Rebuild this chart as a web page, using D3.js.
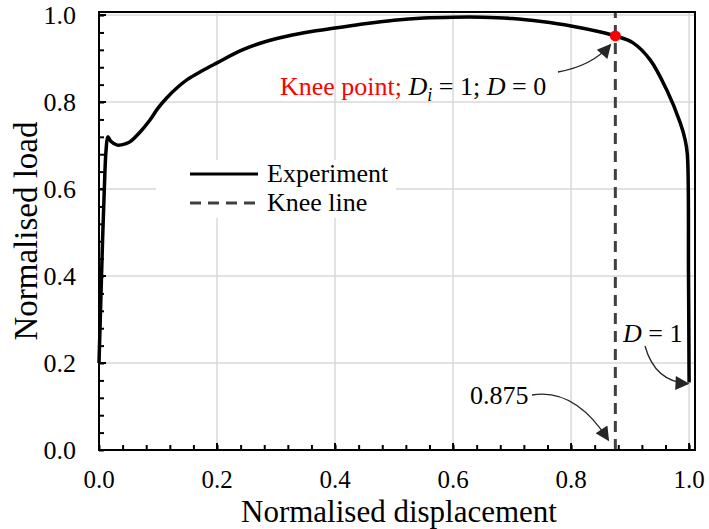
<!DOCTYPE html>
<html>
<head>
<meta charset="utf-8">
<script src="https://cdn.jsdelivr.net/npm/d3@7"></script>
<style>
  body { margin: 0; background: #fff; }
</style>
</head>
<body>
<script>
// experiment curve
const displacement = [0, 0.003, 0.006, 0.009, 0.012, 0.015, 0.02, 0.031, 0.045, 0.053, 0.069, 0.086, 0.1, 0.115, 0.13, 0.15, 0.175, 0.2, 0.24, 0.28, 0.32, 0.36, 0.4, 0.45, 0.5, 0.55, 0.6, 0.65, 0.7, 0.75, 0.8, 0.85, 0.875, 0.905, 0.934, 0.962, 0.985, 0.993, 0.997, 0.999, 1.0]
const load = [0.2, 0.34, 0.48, 0.6, 0.69, 0.72, 0.71, 0.701, 0.704, 0.709, 0.73, 0.758, 0.786, 0.81, 0.83, 0.852, 0.872, 0.89, 0.918, 0.938, 0.952, 0.962, 0.97, 0.98, 0.988, 0.993, 0.995, 0.995, 0.992, 0.985, 0.975, 0.961, 0.952, 0.936, 0.897, 0.828, 0.752, 0.715, 0.68, 0.4, 0.155]

const kneeX = 0.875, kneeLoad = 0.952
const failX = 1.0, failLoad = 0.155
const majorTicks = [0, 0.2, 0.4, 0.6, 0.8, 1.0]
const minorTicks = d3.range(0, 1.001, 0.04)

const width = 709, height = 529
const margin = { top: 12, right: 14, bottom: 79, left: 99 }
const serif = "'Liberation Serif', Tinos, 'Times New Roman', 'DejaVu Serif', serif"

const svg = d3.select("body").append("svg")
  .attr("width", width)
  .attr("height", height)
  .attr("font-family", serif)
  .style("font-family", serif)

const x = d3.scaleLinear().domain([0, 1.01]).range([margin.left, width - margin.right])
const y = d3.scaleLinear().domain([0, 1.007]).range([height - margin.bottom, margin.top])

// grid
svg.append("g").selectAll("line").data(majorTicks.slice(1)).enter().append("line")
  .attr("x1", d => x(d)).attr("x2", d => x(d))
  .attr("y1", y.range()[0]).attr("y2", y.range()[1])
  .attr("stroke", "#d9d9d9").attr("stroke-width", 1.5)
svg.append("g").selectAll("line").data(majorTicks.slice(1)).enter().append("line")
  .attr("y1", d => y(d)).attr("y2", d => y(d))
  .attr("x1", x.range()[0]).attr("x2", x.range()[1])
  .attr("stroke", "#d9d9d9").attr("stroke-width", 1.5)

// axes, ticks inside
const xAxis = d3.axisTop(x).tickValues(minorTicks).tickSize(5).tickFormat("")
const yAxis = d3.axisRight(y).tickValues(minorTicks).tickSize(5).tickFormat("")
svg.append("g").attr("transform", `translate(0,${y(0)})`).call(xAxis)
  .call(g => g.select(".domain").remove())
  .selectAll("line").attr("stroke", "#000").attr("stroke-width", 2)
svg.append("g").attr("transform", `translate(${x(0)},0)`).call(yAxis)
  .call(g => g.select(".domain").remove())
  .selectAll("line").attr("stroke", "#000").attr("stroke-width", 2)
svg.append("g").selectAll("line").data(majorTicks).enter().append("line")
  .attr("x1", d => x(d)).attr("x2", d => x(d))
  .attr("y1", y(0)).attr("y2", y(0) - 7)
  .attr("stroke", "#000").attr("stroke-width", 2)
svg.append("g").selectAll("line").data(majorTicks).enter().append("line")
  .attr("y1", d => y(d)).attr("y2", d => y(d))
  .attr("x1", x(0)).attr("x2", x(0) + 7)
  .attr("stroke", "#000").attr("stroke-width", 2)

// tick labels
svg.append("g").selectAll("text").data(majorTicks).enter().append("text")
  .attr("x", d => x(d)).attr("y", 488)
  .attr("text-anchor", "middle").style("font-size", "25px")
  .text(d => d.toFixed(1))
svg.append("g").selectAll("text").data(majorTicks).enter().append("text")
  .attr("x", 76).attr("y", d => y(d)).attr("dy", "0.35em")
  .attr("text-anchor", "end").style("font-size", "26px")
  .text(d => d.toFixed(1))

// axis titles
svg.append("text")
  .attr("x", (x.range()[0] + x.range()[1]) / 2 + 2).attr("y", 522)
  .attr("text-anchor", "middle").style("font-size", "31px")
  .text("Normalised displacement")
svg.append("text")
  .attr("transform", `translate(37,${(y.range()[0] + y.range()[1]) / 2}) rotate(-90)`)
  .attr("text-anchor", "middle").style("font-size", "33px")
  .text("Normalised load")

// legend (white box over grid)
const legend = svg.append("g")
legend.append("rect").attr("x", 156).attr("y", 160).attr("width", 240).attr("height", 58).attr("fill", "#fff")
legend.append("line").attr("x1", 190).attr("x2", 258).attr("y1", 174).attr("y2", 174)
  .attr("stroke", "#000").attr("stroke-width", 3)
legend.append("line").attr("x1", 190).attr("x2", 258).attr("y1", 203).attr("y2", 203)
  .attr("stroke", "#404040").attr("stroke-width", 3).attr("stroke-dasharray", "11,7")
legend.append("text").attr("x", 267).attr("y", 182).style("font-size", "26px").text("Experiment")
legend.append("text").attr("x", 267).attr("y", 211).style("font-size", "26px").text("Knee line")

// knee line
svg.append("line")
  .attr("x1", x(kneeX)).attr("x2", x(kneeX))
  .attr("y1", y.range()[0]).attr("y2", y.range()[1])
  .attr("stroke", "#404040").attr("stroke-width", 3).attr("stroke-dasharray", "11,7")

// experiment curve
const line = d3.line()
  .x((d, i) => x(displacement[i]))
  .y(d => y(d))
  .curve(d3.curveCatmullRom.alpha(0.5))
svg.append("path").datum(load)
  .attr("d", line)
  .attr("fill", "none").attr("stroke", "#000").attr("stroke-width", 3.5)
  .attr("stroke-linejoin", "round")

// frame
svg.append("rect")
  .attr("x", x.range()[0]).attr("y", y.range()[1])
  .attr("width", x.range()[1] - x.range()[0]).attr("height", y.range()[0] - y.range()[1])
  .attr("fill", "none").attr("stroke", "#000").attr("stroke-width", 2)

// knee point
svg.append("circle").attr("cx", x(kneeX)).attr("cy", y(kneeLoad)).attr("r", 5.5).attr("fill", "#ff0000")

// arrows
svg.append("defs").append("marker")
  .attr("id", "head").attr("viewBox", "0 0 10 10")
  .attr("refX", 9).attr("refY", 5)
  .attr("markerWidth", 16).attr("markerHeight", 14)
  .attr("markerUnits", "userSpaceOnUse")
  .attr("orient", "auto")
  .append("path").attr("d", "M0,0 L10,5 L0,10 Z").attr("fill", "#262626")

const arrow = (x0, y0, cx, cy, x1, y1) => {
  svg.append("path")
    .attr("d", `M${x0},${y0} Q${cx},${cy} ${x1},${y1}`)
    .attr("fill", "none").attr("stroke", "#262626").attr("stroke-width", 1.3)
    .attr("marker-end", "url(#head)")
}
arrow(558, 72, 592, 66, x(kneeX) - 5, y(kneeLoad) + 9)
arrow(532, 395, 575, 388, x(kneeX) - 7, y(0) - 10)
arrow(645, 346, 655, 382, x(failX) - 1, y(failLoad) + 1)

// annotations
const knee = svg.append("text").attr("x", 280).attr("y", 95).style("font-size", "26px")
knee.append("tspan").attr("fill", "#ff0000").text("Knee point; ")
knee.append("tspan").attr("font-style", "italic").text("D")
knee.append("tspan").attr("font-style", "italic").attr("dy", 6).style("font-size", "18px").text("i")
knee.append("tspan").attr("dy", -6).text(" = 1; ")
knee.append("tspan").attr("font-style", "italic").text("D")
knee.append("tspan").text(" = 0")

const d1 = svg.append("text").attr("x", 623).attr("y", 342).style("font-size", "26px")
d1.append("tspan").attr("font-style", "italic").text("D")
d1.append("tspan").text(" = 1")

svg.append("text").attr("x", 470).attr("y", 404).style("font-size", "26px").text("0.875")
</script>
</body>
</html>
